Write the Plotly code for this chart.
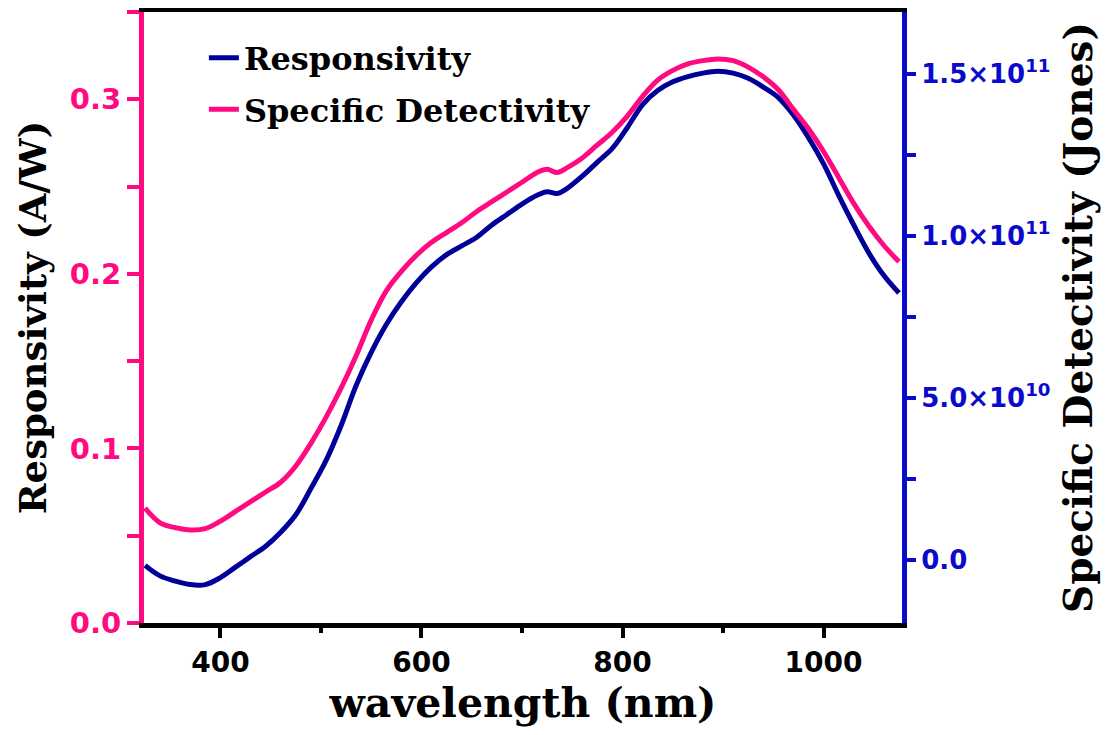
import plotly.graph_objects as go

wavelength = [325, 340, 355, 370, 385, 400, 415, 430, 445, 460, 475, 490, 505, 520, 535,
              550, 565, 580, 595, 610, 625, 640, 655, 670, 685, 700, 715, 725, 735, 745,
              760, 775, 790, 805, 820, 835, 850, 865, 880, 895, 910, 925, 940, 955, 970,
              985, 1000, 1015, 1030, 1045, 1060, 1075]

responsivity = [0.033, 0.027, 0.024, 0.022, 0.022, 0.026, 0.032, 0.038, 0.044, 0.052, 0.062,
                0.077, 0.093, 0.113, 0.136, 0.155, 0.171, 0.184, 0.195, 0.204, 0.211, 0.216,
                0.221, 0.228, 0.234, 0.240, 0.245, 0.247, 0.246, 0.249, 0.256, 0.264, 0.272,
                0.284, 0.297, 0.305, 0.310, 0.313, 0.315, 0.316, 0.315, 0.312, 0.307, 0.301,
                0.291, 0.278, 0.263, 0.245, 0.228, 0.212, 0.199, 0.189]

detectivity_e10 = [1.6, 1.15, 1.0, 0.93, 0.97, 1.2, 1.5, 1.8, 2.1, 2.4, 2.9, 3.6, 4.4, 5.3, 6.3,
                   7.4, 8.3, 8.9, 9.4, 9.8, 10.1, 10.4, 10.75, 11.05, 11.35, 11.65, 11.95, 12.05,
                   11.95, 12.1, 12.4, 12.8, 13.2, 13.7, 14.3, 14.8, 15.1, 15.3, 15.4, 15.45,
                   15.4, 15.2, 14.9, 14.5, 13.9, 13.3, 12.6, 11.8, 11.0, 10.3, 9.7, 9.2]
detectivity = [v * 1e10 for v in detectivity_e10]

left_ticks = [0.0, 0.1, 0.2, 0.3]
right_tickvals = [0, 5e10, 1e11, 1.5e11]
right_ticktext = ["0.0", "5.0×10<sup>10</sup>", "1.0×10<sup>11</sup>", "1.5×10<sup>11</sup>"]
x_ticks = [400, 600, 800, 1000]

PINK = "#FF0A80"
NAVY = "#000099"
BLUE = "#0A0ACC"
SANS = "DejaVu Sans"
SERIF = "DejaVu Serif"

fig = go.Figure()
fig.add_trace(go.Scatter(x=wavelength, y=responsivity, mode="lines", name="Responsivity",
                         line=dict(color=NAVY, width=5, shape="spline"), yaxis="y",
                         legendgroup="a"))
fig.add_trace(go.Scatter(x=wavelength, y=detectivity, mode="lines", name="Specific Detectivity",
                         line=dict(color=PINK, width=5, shape="spline"), yaxis="y2",
                         legendgroup="b"))

fig.update_layout(
    width=1110, height=735,
    margin=dict(l=136, r=216, t=4, b=120, autoexpand=False),
    plot_bgcolor="white", paper_bgcolor="white",
    showlegend=True,
    legend=dict(x=0.079, y=0.970, xanchor="left", yanchor="top",
                font=dict(family=SERIF, size=32, color="black", weight="bold"),
                bgcolor="rgba(0,0,0,0)", tracegroupgap=7, traceorder="grouped"),
    xaxis=dict(range=[324, 1078], tickvals=x_ticks, ticks="outside", ticklen=10, tickwidth=4,
               tickcolor="black", showline=True, linecolor="black", linewidth=5, mirror=True,
               showgrid=False, zeroline=False, automargin=False,
               tickfont=dict(family=SANS, size=28, color="black", weight="bold"),
               minor=dict(dtick=100, tick0=300, ticks="outside", ticklen=5, tickwidth=4,
                          tickcolor="black"),
               title=dict(text="wavelength (nm)", standoff=4,
                          font=dict(family=SERIF, size=41, color="black", weight="bold"))),
    yaxis=dict(range=[0, 0.35], tickvals=left_ticks, tickformat=".1f", ticks="outside",
               ticklen=12, tickwidth=4, tickcolor=PINK, showline=True, linecolor=PINK,
               linewidth=5, showgrid=False, zeroline=False, automargin=False,
               tickfont=dict(family=SANS, size=29, color=PINK, weight="bold"),
               minor=dict(dtick=0.05, tick0=0, ticks="outside", ticklen=12, tickwidth=4,
                          tickcolor=PINK),
               title=dict(text="Responsivity (A/W)", standoff=13,
                          font=dict(family=SERIF, size=37, color="black", weight="bold"))),
    yaxis2=dict(range=[-1.94e10, 1.69e11], overlaying="y", side="right",
                tickvals=right_tickvals, ticktext=right_ticktext, ticks="outside", ticklen=9,
                tickwidth=4, tickcolor=BLUE, showline=True, linecolor=BLUE, linewidth=5,
                showgrid=False, zeroline=False, automargin=False,
                tickfont=dict(family=SANS, size=26, color=BLUE, weight="bold"),
                minor=dict(dtick=2.5e10, tick0=0, ticks="outside", ticklen=9, tickwidth=4,
                           tickcolor=BLUE),
                title=dict(text="Specific Detectivity (Jones)", standoff=17,
                           font=dict(family=SERIF, size=39, color="black", weight="bold"))),
)

fig.write_html("out.html")
